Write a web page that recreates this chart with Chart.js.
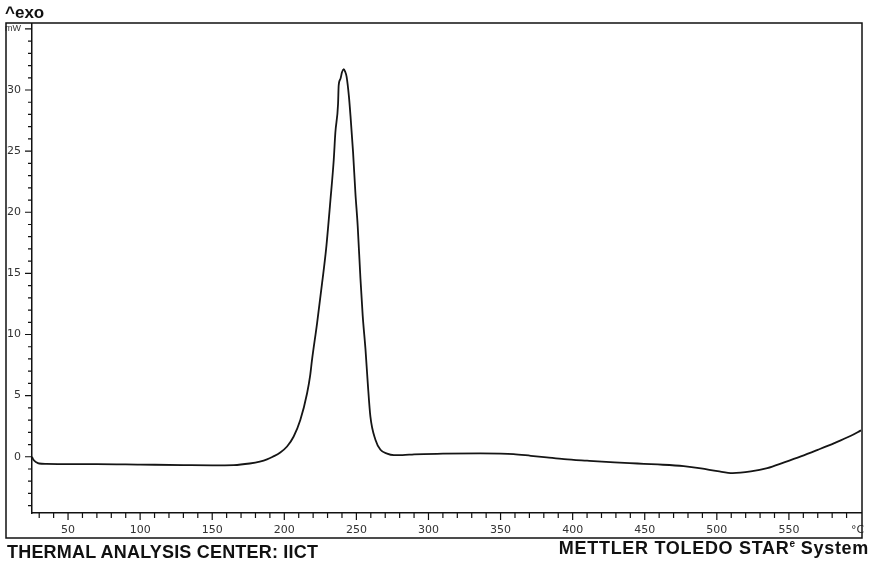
<!DOCTYPE html>
<html>
<head>
<meta charset="utf-8">
<title>DSC curve</title>
<script src="https://cdn.jsdelivr.net/npm/chart.js@4.4.0/dist/chart.umd.min.js"></script>
<style>
  body { margin: 0; background: #fff; }
  #wrap { position: relative; width: 871px; height: 568px; }
  .lbl { position: absolute; font-family: "Liberation Sans", Arial, sans-serif; font-weight: bold; color: #111; line-height: 1; white-space: nowrap; }
  #exo { left: 5px; top: 4px; font-size: 17px; }
  #center { left: 7px; top: 543px; font-size: 18px; letter-spacing: 0.2px; }
  #system { right: 2px; top: 539px; font-size: 18px; letter-spacing: 0.7px; }
  #system sup { font-size: 10px; vertical-align: 7px; letter-spacing: 0; }
</style>
</head>
<body>
<div id="wrap">
  <canvas id="myChart" width="871" height="568"></canvas>
  <div class="lbl" id="exo">^exo</div>
  <div class="lbl" id="center">THERMAL ANALYSIS CENTER: IICT</div>
  <div class="lbl" id="system">METTLER TOLEDO STAR<sup>e</sup> System</div>
</div>
<script>
// temperature (°C) and heat flow (mW)
const temps = [25, 26, 28, 30, 35, 50, 70, 100, 130, 150, 165, 176, 183, 188, 192, 197.2, 201.9, 206.5, 211.1,
    215.8, 218, 219.2, 222.7, 226.2, 229, 232, 234.3, 235.4, 237.3, 237.7, 238.9, 240, 241.2, 242.2, 243.2,
    244.8, 245.9, 247.7, 249.3, 250.9, 252.8, 254.4, 256.3, 257.9, 259.7, 263.2, 266.7, 271.3, 276, 282, 290,
    310, 336, 350, 359, 371, 382, 394, 410, 429, 445, 459, 477, 489, 500.5, 511, 523.6, 535, 546.7, 558.3, 570,
    581.5, 593, 600];
const heatFlow = [0.0, -0.25, -0.45, -0.55, -0.58, -0.6, -0.6, -0.64, -0.68, -0.7, -0.68, -0.55, -0.4, -0.22, 0.0, 0.35, 0.84, 1.66, 3.0,
    5.2, 6.7, 7.9, 10.9, 14.2, 17.0, 21.0, 24.3, 26.5, 28.9, 30.35, 30.9, 31.45, 31.7, 31.5, 31.1,
    29.5, 27.9, 24.9, 21.6, 18.9, 14.6, 11.5, 8.8, 6.0, 3.3, 1.39, 0.57, 0.25, 0.13, 0.13, 0.2,
    0.25, 0.27, 0.26, 0.22, 0.08, -0.05, -0.19, -0.32, -0.46, -0.55, -0.63, -0.77, -0.95, -1.18, -1.34, -1.2, -0.93, -0.46, 0.03, 0.57,
    1.12, 1.72, 2.16];

// tick labels
const xLabelValues = [50, 100, 150, 200, 250, 300, 350, 400, 450, 500, 550];
const xUnit = "°C";
const yLabelValues = [0, 5, 10, 15, 20, 25, 30];
const yUnit = "mW";

const ink = "#111";
const labelFont = { family: "DejaVu Sans", size: 11 };
const unitFont = { family: "Liberation Sans", size: 9 };

// integer ticks every `step` inside the axis range
function evenTicks(scale, step) {
    const ticks = [];
    for (let v = Math.ceil(scale.min / step) * step; v <= scale.max; v += step) {
        ticks.push({ value: v });
    }
    scale.ticks = ticks;
}

// outer frame + short tick marks (major ones longer)
const frameAndTicks = {
    id: "frameAndTicks",
    afterDraw(chart) {
        const c = chart.ctx;
        const xs = chart.scales.x;
        const ys = chart.scales.y;
        c.save();
        c.strokeStyle = ink;
        c.lineWidth = 1.5;
        c.strokeRect(6, 23, 856, 515);

        c.lineWidth = 1.2;
        c.beginPath();
        xs.ticks.forEach(t => {
            if (t.value >= xs.max) return;
            const px = xs.getPixelForValue(t.value);
            const len = xLabelValues.includes(t.value) ? 7 : 5;
            c.moveTo(px, xs.top);
            c.lineTo(px, xs.top + len);
        });
        ys.ticks.forEach(t => {
            const py = ys.getPixelForValue(t.value);
            const len = (t.value % 5 === 0) ? 7 : 4;
            c.moveTo(ys.right, py);
            c.lineTo(ys.right - len, py);
        });
        c.stroke();
        c.restore();
    }
};

const points = temps.map((t, i) => ({ x: t, y: heatFlow[i] }));

new Chart(document.getElementById("myChart"), {
    type: "line",
    data: {
        datasets: [{
            data: points,
            borderColor: "#151515",
            borderWidth: 1.8,
            pointRadius: 0,
            cubicInterpolationMode: "monotone",
            fill: false
        }]
    },
    options: {
        responsive: false,
        animation: false,
        layout: { padding: { top: 24, right: 10, bottom: 30, left: 0 } },
        plugins: { legend: { display: false }, tooltip: { enabled: false } },
        scales: {
            x: {
                type: "linear",
                min: 25,
                max: 600,
                afterBuildTicks(scale) { evenTicks(scale, 10); },
                afterFit(scale) {
                    scale.height = 25;
                    scale.paddingLeft = 0;
                    scale.paddingRight = 0;
                },
                grid: { drawOnChartArea: false, drawTicks: false },
                border: { color: ink, width: 1.5 },
                ticks: {
                    autoSkip: false,
                    maxRotation: 0,
                    padding: 11,
                    color: "#333",
                    font: labelFont,
                    // trailing spaces nudge the unit left so it stays inside the frame
                    callback: v => v === 600 ? xUnit + "  " : (xLabelValues.includes(v) ? String(v) : "")
                }
            },
            y: {
                min: -4.6,
                max: 35.4,
                afterBuildTicks(scale) { evenTicks(scale, 1); },
                afterFit(scale) {
                    scale.width = 32;
                    scale.paddingTop = 0;
                    scale.paddingBottom = 0;
                },
                grid: { drawOnChartArea: false, drawTicks: false },
                border: { color: ink, width: 1.5 },
                ticks: {
                    autoSkip: false,
                    padding: 11,
                    color: "#333",
                    font: ctx => (ctx.tick && ctx.tick.value === 35) ? unitFont : labelFont,
                    callback: v => v === 35 ? yUnit : (yLabelValues.includes(v) ? String(v) : "")
                }
            }
        }
    },
    plugins: [frameAndTicks]
});
</script>
</body>
</html>
